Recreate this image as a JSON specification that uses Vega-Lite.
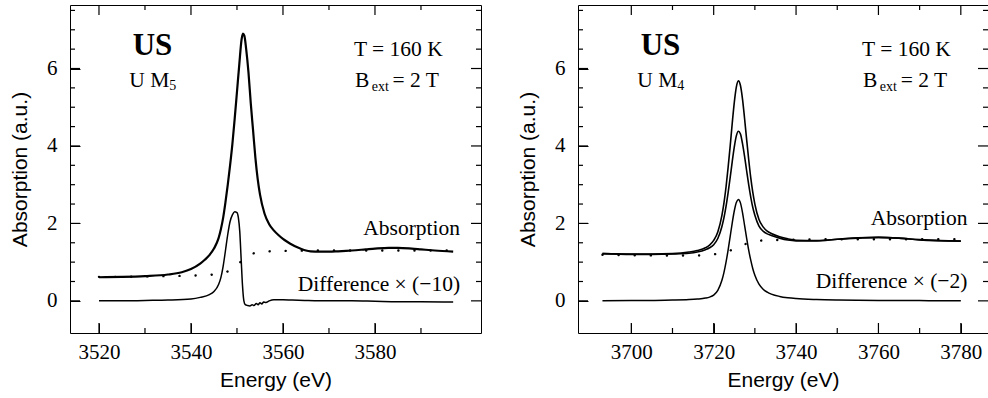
{
  "$schema": "https://vega.github.io/schema/vega-lite/v6.json",
  "background": "white",
  "padding": {"left": 9, "top": 3, "right": 0, "bottom": 0},
  "spacing": 97,
  "bounds": "flush",
  "config": {
    "view": {"stroke": "black", "strokeWidth": 1},
    "axis": {"domain": false, "grid": false, "ticks": false, "labelFont": "Liberation Serif", "labelFontSize": 21, "labelColor": "black", "titleFont": "Liberation Sans", "titleFontSize": 21, "titleFontWeight": "normal", "titleColor": "black", "labelFlush": false, "labelOverlap": false, "format": "d"},
    "rule": {"color": "black", "strokeWidth": 1.2}
  },
  "datasets": {
    "m5": [
      {"s":"abs","E":3520,"v":0.61},{"s":"abs","E":3525,"v":0.62},{"s":"abs","E":3530,"v":0.64},{"s":"abs","E":3535,"v":0.68},{"s":"abs","E":3538,"v":0.74},{"s":"abs","E":3540,"v":0.82},{"s":"abs","E":3542,"v":0.96},{"s":"abs","E":3543,"v":1.06},{"s":"abs","E":3544,"v":1.18},{"s":"abs","E":3545,"v":1.35},{"s":"abs","E":3546,"v":1.62},{"s":"abs","E":3546.5,"v":1.85},{"s":"abs","E":3547,"v":2.15},{"s":"abs","E":3547.5,"v":2.55},{"s":"abs","E":3548,"v":3.0},{"s":"abs","E":3548.5,"v":3.5},{"s":"abs","E":3549,"v":4.05},{"s":"abs","E":3549.5,"v":4.7},{"s":"abs","E":3550,"v":5.4},{"s":"abs","E":3550.5,"v":6.1},{"s":"abs","E":3551,"v":6.75},{"s":"abs","E":3551.3,"v":6.9},{"s":"abs","E":3551.6,"v":6.85},{"s":"abs","E":3552,"v":6.5},{"s":"abs","E":3552.5,"v":5.9},{"s":"abs","E":3553,"v":5.1},{"s":"abs","E":3553.5,"v":4.4},{"s":"abs","E":3554,"v":3.7},{"s":"abs","E":3554.5,"v":3.15},{"s":"abs","E":3555,"v":2.75},{"s":"abs","E":3556,"v":2.25},{"s":"abs","E":3557,"v":1.98},{"s":"abs","E":3558,"v":1.82},{"s":"abs","E":3559,"v":1.7},{"s":"abs","E":3560,"v":1.6},{"s":"abs","E":3561,"v":1.52},{"s":"abs","E":3562,"v":1.45},{"s":"abs","E":3563,"v":1.39},{"s":"abs","E":3564,"v":1.34},{"s":"abs","E":3565,"v":1.3},{"s":"abs","E":3566,"v":1.28},{"s":"abs","E":3568,"v":1.27},{"s":"abs","E":3570,"v":1.27},{"s":"abs","E":3572,"v":1.28},{"s":"abs","E":3575,"v":1.3},{"s":"abs","E":3578,"v":1.33},{"s":"abs","E":3580,"v":1.35},{"s":"abs","E":3583,"v":1.37},{"s":"abs","E":3585,"v":1.37},{"s":"abs","E":3588,"v":1.35},{"s":"abs","E":3590,"v":1.33},{"s":"abs","E":3593,"v":1.3},{"s":"abs","E":3597,"v":1.27},
      {"s":"diff","E":3520,"v":0.0},{"s":"diff","E":3525,"v":0.0},{"s":"diff","E":3530,"v":0.01},{"s":"diff","E":3535,"v":0.02},{"s":"diff","E":3540,"v":0.05},{"s":"diff","E":3542,"v":0.09},{"s":"diff","E":3544,"v":0.16},{"s":"diff","E":3545,"v":0.24},{"s":"diff","E":3546,"v":0.42},{"s":"diff","E":3546.5,"v":0.6},{"s":"diff","E":3547,"v":0.9},{"s":"diff","E":3547.5,"v":1.3},{"s":"diff","E":3548,"v":1.72},{"s":"diff","E":3548.5,"v":2.05},{"s":"diff","E":3549,"v":2.22},{"s":"diff","E":3549.5,"v":2.3},{"s":"diff","E":3550,"v":2.28},{"s":"diff","E":3550.3,"v":2.15},{"s":"diff","E":3550.6,"v":1.8},{"s":"diff","E":3550.9,"v":1.1},{"s":"diff","E":3551.2,"v":0.4},{"s":"diff","E":3551.5,"v":0.0},{"s":"diff","E":3551.8,"v":-0.1},{"s":"diff","E":3552.3,"v":-0.12},{"s":"diff","E":3552.8,"v":-0.13},{"s":"diff","E":3553.3,"v":-0.1},{"s":"diff","E":3553.7,"v":-0.12},{"s":"diff","E":3554.2,"v":-0.07},{"s":"diff","E":3554.6,"v":-0.1},{"s":"diff","E":3555,"v":-0.05},{"s":"diff","E":3555.4,"v":-0.08},{"s":"diff","E":3555.8,"v":-0.03},{"s":"diff","E":3556.3,"v":-0.04},{"s":"diff","E":3557,"v":0.0},{"s":"diff","E":3558,"v":0.03},{"s":"diff","E":3559,"v":0.03},{"s":"diff","E":3560,"v":0.03},{"s":"diff","E":3562,"v":0.02},{"s":"diff","E":3565,"v":0.01},{"s":"diff","E":3570,"v":0.0},{"s":"diff","E":3575,"v":0.0},{"s":"diff","E":3580,"v":-0.01},{"s":"diff","E":3585,"v":-0.02},{"s":"diff","E":3590,"v":-0.02},{"s":"diff","E":3597,"v":-0.03},
      {"s":"step","E":3520,"v":0.62},{"s":"step","E":3525,"v":0.62},{"s":"step","E":3530,"v":0.63},{"s":"step","E":3535,"v":0.64},{"s":"step","E":3540,"v":0.65},{"s":"step","E":3544,"v":0.67},{"s":"step","E":3546,"v":0.7},{"s":"step","E":3548,"v":0.76},{"s":"step","E":3549,"v":0.82},{"s":"step","E":3550,"v":0.92},{"s":"step","E":3551,"v":1.03},{"s":"step","E":3552,"v":1.13},{"s":"step","E":3553,"v":1.2},{"s":"step","E":3554,"v":1.24},{"s":"step","E":3556,"v":1.27},{"s":"step","E":3560,"v":1.29},{"s":"step","E":3570,"v":1.3},{"s":"step","E":3580,"v":1.3},{"s":"step","E":3597,"v":1.3}
    ],
    "m4": [
      {"s":"abs1","E":3693,"v":1.22},{"s":"abs1","E":3700,"v":1.21},{"s":"abs1","E":3705,"v":1.21},{"s":"abs1","E":3710,"v":1.22},{"s":"abs1","E":3714,"v":1.26},{"s":"abs1","E":3716,"v":1.3},{"s":"abs1","E":3718,"v":1.37},{"s":"abs1","E":3719,"v":1.44},{"s":"abs1","E":3720,"v":1.56},{"s":"abs1","E":3721,"v":1.78},{"s":"abs1","E":3722,"v":2.21},{"s":"abs1","E":3722.5,"v":2.53},{"s":"abs1","E":3723,"v":2.94},{"s":"abs1","E":3723.5,"v":3.44},{"s":"abs1","E":3724,"v":3.99},{"s":"abs1","E":3724.5,"v":4.58},{"s":"abs1","E":3725,"v":5.12},{"s":"abs1","E":3725.5,"v":5.52},{"s":"abs1","E":3726,"v":5.68},{"s":"abs1","E":3726.5,"v":5.56},{"s":"abs1","E":3727,"v":5.21},{"s":"abs1","E":3727.5,"v":4.71},{"s":"abs1","E":3728,"v":4.17},{"s":"abs1","E":3728.5,"v":3.65},{"s":"abs1","E":3729,"v":3.18},{"s":"abs1","E":3729.5,"v":2.8},{"s":"abs1","E":3730,"v":2.5},{"s":"abs1","E":3731,"v":2.1},{"s":"abs1","E":3732,"v":1.91},{"s":"abs1","E":3733,"v":1.8},{"s":"abs1","E":3734,"v":1.74},{"s":"abs1","E":3736,"v":1.655},{"s":"abs1","E":3738,"v":1.6},{"s":"abs1","E":3740,"v":1.567},{"s":"abs1","E":3745,"v":1.557},{"s":"abs1","E":3750,"v":1.59},{"s":"abs1","E":3755,"v":1.63},{"s":"abs1","E":3760,"v":1.64},{"s":"abs1","E":3765,"v":1.62},{"s":"abs1","E":3770,"v":1.58},{"s":"abs1","E":3775,"v":1.555},{"s":"abs1","E":3780,"v":1.544},
      {"s":"abs2","E":3693,"v":1.22},{"s":"abs2","E":3700,"v":1.2},{"s":"abs2","E":3705,"v":1.2},{"s":"abs2","E":3710,"v":1.21},{"s":"abs2","E":3714,"v":1.23},{"s":"abs2","E":3716,"v":1.26},{"s":"abs2","E":3718,"v":1.32},{"s":"abs2","E":3719,"v":1.37},{"s":"abs2","E":3720,"v":1.45},{"s":"abs2","E":3721,"v":1.61},{"s":"abs2","E":3722,"v":1.92},{"s":"abs2","E":3722.5,"v":2.15},{"s":"abs2","E":3723,"v":2.44},{"s":"abs2","E":3723.5,"v":2.79},{"s":"abs2","E":3724,"v":3.18},{"s":"abs2","E":3724.5,"v":3.59},{"s":"abs2","E":3725,"v":3.97},{"s":"abs2","E":3725.5,"v":4.26},{"s":"abs2","E":3726,"v":4.38},{"s":"abs2","E":3726.5,"v":4.31},{"s":"abs2","E":3727,"v":4.06},{"s":"abs2","E":3727.5,"v":3.73},{"s":"abs2","E":3728,"v":3.36},{"s":"abs2","E":3728.5,"v":3.0},{"s":"abs2","E":3729,"v":2.68},{"s":"abs2","E":3729.5,"v":2.41},{"s":"abs2","E":3730,"v":2.21},{"s":"abs2","E":3731,"v":1.93},{"s":"abs2","E":3732,"v":1.8},{"s":"abs2","E":3733,"v":1.73},{"s":"abs2","E":3734,"v":1.69},{"s":"abs2","E":3736,"v":1.62},{"s":"abs2","E":3738,"v":1.57},{"s":"abs2","E":3740,"v":1.55},{"s":"abs2","E":3745,"v":1.55},{"s":"abs2","E":3750,"v":1.59},{"s":"abs2","E":3755,"v":1.62},{"s":"abs2","E":3760,"v":1.64},{"s":"abs2","E":3765,"v":1.62},{"s":"abs2","E":3770,"v":1.575},{"s":"abs2","E":3775,"v":1.554},{"s":"abs2","E":3780,"v":1.543},
      {"s":"diff","E":3693,"v":0.005},{"s":"diff","E":3700,"v":0.007},{"s":"diff","E":3705,"v":0.011},{"s":"diff","E":3710,"v":0.019},{"s":"diff","E":3714,"v":0.033},{"s":"diff","E":3716,"v":0.047},{"s":"diff","E":3718,"v":0.071},{"s":"diff","E":3719,"v":0.097},{"s":"diff","E":3720,"v":0.149},{"s":"diff","E":3721,"v":0.272},{"s":"diff","E":3722,"v":0.53},{"s":"diff","E":3722.5,"v":0.736},{"s":"diff","E":3723,"v":1.0},{"s":"diff","E":3723.5,"v":1.31},{"s":"diff","E":3724,"v":1.66},{"s":"diff","E":3724.5,"v":2.01},{"s":"diff","E":3725,"v":2.32},{"s":"diff","E":3725.5,"v":2.54},{"s":"diff","E":3726,"v":2.62},{"s":"diff","E":3726.5,"v":2.53},{"s":"diff","E":3727,"v":2.28},{"s":"diff","E":3727.5,"v":1.95},{"s":"diff","E":3728,"v":1.62},{"s":"diff","E":3728.5,"v":1.31},{"s":"diff","E":3729,"v":1.05},{"s":"diff","E":3729.5,"v":0.83},{"s":"diff","E":3730,"v":0.66},{"s":"diff","E":3731,"v":0.43},{"s":"diff","E":3732,"v":0.3},{"s":"diff","E":3733,"v":0.225},{"s":"diff","E":3734,"v":0.175},{"s":"diff","E":3736,"v":0.115},{"s":"diff","E":3738,"v":0.081},{"s":"diff","E":3740,"v":0.06},{"s":"diff","E":3745,"v":0.034},{"s":"diff","E":3750,"v":0.021},{"s":"diff","E":3755,"v":0.014},{"s":"diff","E":3760,"v":0.01},{"s":"diff","E":3765,"v":0.008},{"s":"diff","E":3770,"v":0.0065},{"s":"diff","E":3775,"v":0.005},{"s":"diff","E":3780,"v":0.004},
      {"s":"step","E":3693,"v":1.19},{"s":"step","E":3700,"v":1.18},{"s":"step","E":3710,"v":1.17},{"s":"step","E":3715,"v":1.17},{"s":"step","E":3718,"v":1.18},{"s":"step","E":3720,"v":1.2},{"s":"step","E":3722,"v":1.24},{"s":"step","E":3724,"v":1.3},{"s":"step","E":3725,"v":1.34},{"s":"step","E":3726,"v":1.38},{"s":"step","E":3727,"v":1.43},{"s":"step","E":3728,"v":1.48},{"s":"step","E":3729,"v":1.52},{"s":"step","E":3730,"v":1.54},{"s":"step","E":3732,"v":1.56},{"s":"step","E":3735,"v":1.57},{"s":"step","E":3740,"v":1.58},{"s":"step","E":3750,"v":1.59},{"s":"step","E":3780,"v":1.59}
    ],
    "t5": [
      {"kind":"big","t":"US","E":3527.33,"v":6.35},
      {"kind":"main","t":"U M","E":3526.6,"v":5.53},
      {"kind":"sub","t":"5","E":3535.3,"v":5.44},
      {"kind":"main","t":"T = 160 K","E":3575.44,"v":6.32},
      {"kind":"main","t":"B","E":3575.66,"v":5.53},
      {"kind":"sub","t":"ext","E":3579.3,"v":5.43},
      {"kind":"main","t":"= 2 T","E":3583.8,"v":5.53},
      {"kind":"curve","t":"Absorption","E":3598.5,"v":1.71},
      {"kind":"curve","t":"Difference × (−10)","E":3598.5,"v":0.25}
    ],
    "t4": [
      {"kind":"big","t":"US","E":3702.29,"v":6.35},
      {"kind":"main","t":"U M","E":3701.46,"v":5.53},
      {"kind":"sub","t":"4","E":3711.18,"v":5.44},
      {"kind":"main","t":"T = 160 K","E":3756.03,"v":6.32},
      {"kind":"main","t":"B","E":3756.27,"v":5.53},
      {"kind":"sub","t":"ext","E":3760.33,"v":5.43},
      {"kind":"main","t":"= 2 T","E":3765.4,"v":5.53},
      {"kind":"curve","t":"Absorption","E":3781.6,"v":1.97},
      {"kind":"curve","t":"Difference × (−2)","E":3781.6,"v":0.33}
    ],
    "xt5": [{"E":3520,"k":"M"},{"E":3530,"k":"m"},{"E":3540,"k":"M"},{"E":3550,"k":"m"},{"E":3560,"k":"M"},{"E":3570,"k":"m"},{"E":3580,"k":"M"},{"E":3590,"k":"m"}],
    "xt4": [{"E":3700,"k":"M"},{"E":3710,"k":"m"},{"E":3720,"k":"M"},{"E":3730,"k":"m"},{"E":3740,"k":"M"},{"E":3750,"k":"m"},{"E":3760,"k":"M"},{"E":3770,"k":"m"},{"E":3780,"k":"M"}],
    "yt": [{"v":0,"k":"M"},{"v":0.5,"k":"m"},{"v":1,"k":"m"},{"v":1.5,"k":"m"},{"v":2,"k":"M"},{"v":2.5,"k":"m"},{"v":3,"k":"m"},{"v":3.5,"k":"m"},{"v":4,"k":"M"},{"v":4.5,"k":"m"},{"v":5,"k":"m"},{"v":5.5,"k":"m"},{"v":6,"k":"M"},{"v":6.5,"k":"m"},{"v":7,"k":"m"},{"v":7.5,"k":"m"}]
  },
  "hconcat": [
    {
      "width": 411, "height": 328,
      "layer": [
        {
          "data": {"name": "m5"},
          "transform": [{"filter": "datum.s === 'abs'"}],
          "mark": {"type": "line", "color": "black", "strokeWidth": 2.2, "interpolate": "monotone"},
          "encoding": {
            "x": {"field": "E", "type": "quantitative", "scale": {"domainMin": 3513.7, "domainMax": 3603.05, "nice": false, "zero": false},
                  "axis": {"orient": "bottom", "values": [3520, 3540, 3560, 3580], "ticks": true, "tickSize": -10, "tickColor": "black", "tickWidth": 1, "labelPadding": 18, "title": "Energy (eV)", "titlePadding": 7}},
            "y": {"field": "v", "type": "quantitative", "scale": {"domainMin": -0.83, "domainMax": 7.64, "nice": false, "zero": false},
                  "axis": {"orient": "left", "values": [0, 2, 4, 6], "ticks": true, "tickSize": -10, "tickColor": "black", "tickWidth": 1, "labelPadding": 23, "title": "Absorption (a.u.)", "titlePadding": 16}}
          }
        },
        {
          "data": {"name": "m5"},
          "transform": [{"filter": "datum.s === 'diff'"}],
          "mark": {"type": "line", "color": "black", "strokeWidth": 1.5, "interpolate": "monotone"},
          "encoding": {"x": {"field": "E", "type": "quantitative"}, "y": {"field": "v", "type": "quantitative"}}
        },
        {
          "data": {"name": "m5"},
          "transform": [{"filter": "datum.s === 'step'"}],
          "mark": {"type": "line", "color": "black", "strokeWidth": 2.4, "strokeDash": [0.1, 16], "strokeCap": "round", "interpolate": "monotone"},
          "encoding": {"x": {"field": "E", "type": "quantitative"}, "y": {"field": "v", "type": "quantitative"}}
        },
        {
          "data": {"name": "xt5"}, "transform": [{"filter": "datum.k === 'M'"}], "mark": "rule",
          "encoding": {"x": {"field": "E", "type": "quantitative"}, "y": {"datum": -0.83, "type": "quantitative"}, "y2": {"datum": -0.572}}
        },
        {
          "data": {"name": "xt5"}, "transform": [{"filter": "datum.k === 'm'"}], "mark": "rule",
          "encoding": {"x": {"field": "E", "type": "quantitative"}, "y": {"datum": -0.83, "type": "quantitative"}, "y2": {"datum": -0.701}}
        },
        {
          "data": {"name": "xt5"}, "transform": [{"filter": "datum.k === 'M'"}], "mark": "rule",
          "encoding": {"x": {"field": "E", "type": "quantitative"}, "y": {"datum": 7.64, "type": "quantitative"}, "y2": {"datum": 7.382}}
        },
        {
          "data": {"name": "xt5"}, "transform": [{"filter": "datum.k === 'm'"}], "mark": "rule",
          "encoding": {"x": {"field": "E", "type": "quantitative"}, "y": {"datum": 7.64, "type": "quantitative"}, "y2": {"datum": 7.511}}
        },
        {
          "data": {"name": "yt"}, "transform": [{"filter": "datum.k === 'M'"}], "mark": "rule",
          "encoding": {"y": {"field": "v", "type": "quantitative"}, "x": {"datum": 3513.7, "type": "quantitative"}, "x2": {"datum": 3515.874}}
        },
        {
          "data": {"name": "yt"}, "transform": [{"filter": "datum.k === 'm'"}], "mark": "rule",
          "encoding": {"y": {"field": "v", "type": "quantitative"}, "x": {"datum": 3513.7, "type": "quantitative"}, "x2": {"datum": 3514.787}}
        },
        {
          "data": {"name": "yt"}, "transform": [{"filter": "datum.k === 'M'"}], "mark": "rule",
          "encoding": {"y": {"field": "v", "type": "quantitative"}, "x": {"datum": 3603.05, "type": "quantitative"}, "x2": {"datum": 3600.876}}
        },
        {
          "data": {"name": "yt"}, "transform": [{"filter": "datum.k === 'm'"}], "mark": "rule",
          "encoding": {"y": {"field": "v", "type": "quantitative"}, "x": {"datum": 3603.05, "type": "quantitative"}, "x2": {"datum": 3601.963}}
        },
        {
          "data": {"name": "t5"},
          "transform": [{"filter": "datum.kind === 'big'"}],
          "mark": {"type": "text", "font": "Liberation Serif", "fontSize": 31, "fontWeight": "bold", "align": "left", "baseline": "alphabetic", "color": "black"},
          "encoding": {"x": {"field": "E", "type": "quantitative"}, "y": {"field": "v", "type": "quantitative"}, "text": {"field": "t"}}
        },
        {
          "data": {"name": "t5"},
          "transform": [{"filter": "datum.kind === 'main'"}],
          "mark": {"type": "text", "font": "Liberation Serif", "fontSize": 21.5, "align": "left", "baseline": "alphabetic", "color": "black"},
          "encoding": {"x": {"field": "E", "type": "quantitative"}, "y": {"field": "v", "type": "quantitative"}, "text": {"field": "t"}}
        },
        {
          "data": {"name": "t5"},
          "transform": [{"filter": "datum.kind === 'sub'"}],
          "mark": {"type": "text", "font": "Liberation Serif", "fontSize": 14, "align": "left", "baseline": "alphabetic", "color": "black"},
          "encoding": {"x": {"field": "E", "type": "quantitative"}, "y": {"field": "v", "type": "quantitative"}, "text": {"field": "t"}}
        },
        {
          "data": {"name": "t5"},
          "transform": [{"filter": "datum.kind === 'curve'"}],
          "mark": {"type": "text", "font": "Liberation Serif", "fontSize": 21.5, "align": "right", "baseline": "alphabetic", "color": "black"},
          "encoding": {"x": {"field": "E", "type": "quantitative"}, "y": {"field": "v", "type": "quantitative"}, "text": {"field": "t"}}
        }
      ]
    },
    {
      "width": 410, "height": 328,
      "layer": [
        {
          "data": {"name": "m4"},
          "transform": [{"filter": "datum.s === 'abs1' || datum.s === 'abs2'"}],
          "mark": {"type": "line", "color": "black", "strokeWidth": 1.6, "interpolate": "monotone"},
          "encoding": {
            "x": {"field": "E", "type": "quantitative", "scale": {"domainMin": 3687.06, "domainMax": 3786.6, "nice": false, "zero": false},
                  "axis": {"orient": "bottom", "values": [3700, 3720, 3740, 3760, 3780], "ticks": true, "tickSize": -10, "tickColor": "black", "tickWidth": 1, "labelPadding": 18, "title": "Energy (eV)", "titlePadding": 7}},
            "y": {"field": "v", "type": "quantitative", "scale": {"domainMin": -0.83, "domainMax": 7.64, "nice": false, "zero": false},
                  "axis": {"orient": "left", "values": [0, 2, 4, 6], "ticks": true, "tickSize": -10, "tickColor": "black", "tickWidth": 1, "labelPadding": 23, "title": "Absorption (a.u.)", "titlePadding": 16}},
            "detail": {"field": "s"}
          }
        },
        {
          "data": {"name": "m4"},
          "transform": [{"filter": "datum.s === 'diff'"}],
          "mark": {"type": "line", "color": "black", "strokeWidth": 1.5, "interpolate": "monotone"},
          "encoding": {"x": {"field": "E", "type": "quantitative"}, "y": {"field": "v", "type": "quantitative"}}
        },
        {
          "data": {"name": "m4"},
          "transform": [{"filter": "datum.s === 'step'"}],
          "mark": {"type": "line", "color": "black", "strokeWidth": 2.4, "strokeDash": [0.1, 16], "strokeCap": "round", "interpolate": "monotone"},
          "encoding": {"x": {"field": "E", "type": "quantitative"}, "y": {"field": "v", "type": "quantitative"}}
        },
        {
          "data": {"name": "xt4"}, "transform": [{"filter": "datum.k === 'M'"}], "mark": "rule",
          "encoding": {"x": {"field": "E", "type": "quantitative"}, "y": {"datum": -0.83, "type": "quantitative"}, "y2": {"datum": -0.572}}
        },
        {
          "data": {"name": "xt4"}, "transform": [{"filter": "datum.k === 'm'"}], "mark": "rule",
          "encoding": {"x": {"field": "E", "type": "quantitative"}, "y": {"datum": -0.83, "type": "quantitative"}, "y2": {"datum": -0.701}}
        },
        {
          "data": {"name": "xt4"}, "transform": [{"filter": "datum.k === 'M'"}], "mark": "rule",
          "encoding": {"x": {"field": "E", "type": "quantitative"}, "y": {"datum": 7.64, "type": "quantitative"}, "y2": {"datum": 7.382}}
        },
        {
          "data": {"name": "xt4"}, "transform": [{"filter": "datum.k === 'm'"}], "mark": "rule",
          "encoding": {"x": {"field": "E", "type": "quantitative"}, "y": {"datum": 7.64, "type": "quantitative"}, "y2": {"datum": 7.511}}
        },
        {
          "data": {"name": "yt"}, "transform": [{"filter": "datum.k === 'M'"}], "mark": "rule",
          "encoding": {"y": {"field": "v", "type": "quantitative"}, "x": {"datum": 3687.06, "type": "quantitative"}, "x2": {"datum": 3689.488}}
        },
        {
          "data": {"name": "yt"}, "transform": [{"filter": "datum.k === 'm'"}], "mark": "rule",
          "encoding": {"y": {"field": "v", "type": "quantitative"}, "x": {"datum": 3687.06, "type": "quantitative"}, "x2": {"datum": 3688.274}}
        },
        {
          "data": {"name": "yt"}, "transform": [{"filter": "datum.k === 'M'"}], "mark": "rule",
          "encoding": {"y": {"field": "v", "type": "quantitative"}, "x": {"datum": 3786.6, "type": "quantitative"}, "x2": {"datum": 3784.172}}
        },
        {
          "data": {"name": "yt"}, "transform": [{"filter": "datum.k === 'm'"}], "mark": "rule",
          "encoding": {"y": {"field": "v", "type": "quantitative"}, "x": {"datum": 3786.6, "type": "quantitative"}, "x2": {"datum": 3785.386}}
        },
        {
          "data": {"name": "t4"},
          "transform": [{"filter": "datum.kind === 'big'"}],
          "mark": {"type": "text", "font": "Liberation Serif", "fontSize": 31, "fontWeight": "bold", "align": "left", "baseline": "alphabetic", "color": "black"},
          "encoding": {"x": {"field": "E", "type": "quantitative"}, "y": {"field": "v", "type": "quantitative"}, "text": {"field": "t"}}
        },
        {
          "data": {"name": "t4"},
          "transform": [{"filter": "datum.kind === 'main'"}],
          "mark": {"type": "text", "font": "Liberation Serif", "fontSize": 21.5, "align": "left", "baseline": "alphabetic", "color": "black"},
          "encoding": {"x": {"field": "E", "type": "quantitative"}, "y": {"field": "v", "type": "quantitative"}, "text": {"field": "t"}}
        },
        {
          "data": {"name": "t4"},
          "transform": [{"filter": "datum.kind === 'sub'"}],
          "mark": {"type": "text", "font": "Liberation Serif", "fontSize": 14, "align": "left", "baseline": "alphabetic", "color": "black"},
          "encoding": {"x": {"field": "E", "type": "quantitative"}, "y": {"field": "v", "type": "quantitative"}, "text": {"field": "t"}}
        },
        {
          "data": {"name": "t4"},
          "transform": [{"filter": "datum.kind === 'curve'"}],
          "mark": {"type": "text", "font": "Liberation Serif", "fontSize": 21.5, "align": "right", "baseline": "alphabetic", "color": "black"},
          "encoding": {"x": {"field": "E", "type": "quantitative"}, "y": {"field": "v", "type": "quantitative"}, "text": {"field": "t"}}
        }
      ]
    }
  ]
}
